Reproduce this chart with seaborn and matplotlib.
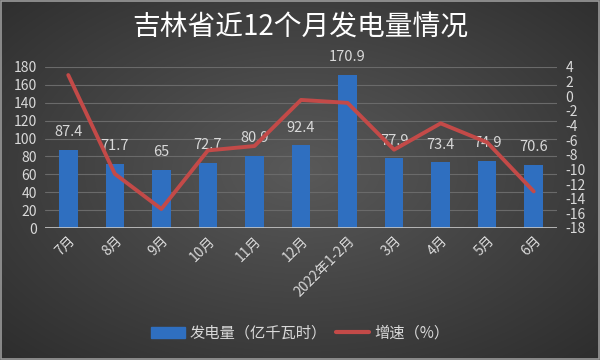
import numpy as np
import pandas as pd
import seaborn as sns
import matplotlib
matplotlib.use("Agg")
import matplotlib.pyplot as plt
from matplotlib.patches import Patch
from matplotlib.lines import Line2D

months = ["7月", "8月", "9月", "10月", "11月", "12月", "2022年1-2月", "3月", "4月", "5月", "6月"]
output = [87.4, 71.7, 65, 72.7, 80.9, 92.4, 170.9, 77.9, 73.4, 74.9, 70.6]
growth = [2.9, -10.6, -15.4, -7.4, -6.8, -0.5, -0.9, -7.3, -3.7, -6.3, -13.0]

sns.set_theme(style="dark")
plt.rcParams['font.family'] = ['Noto Sans CJK SC', 'DejaVu Sans']
plt.rcParams['axes.unicode_minus'] = False

txt = "#d9d9d9"
fig = plt.figure(figsize=(6, 3.6), dpi=100)

# dark radial background like the excel template
yy, xx = np.mgrid[0:360, 0:600]
r = np.sqrt(((xx - 300) / 420.0) ** 2 + ((yy - 170) / 260.0) ** 2)
shade = np.clip(0.35 - 0.17 * r, 0.16, 0.35)
fig.figimage(np.dstack([shade] * 3), xo=0, yo=0, origin="upper", zorder=-5)

ax = fig.add_axes([45 / 600, 1 - 228 / 360, 512 / 600, 161 / 360])
ax.patch.set_alpha(0)
df = pd.DataFrame({"month": months, "output": output, "growth": growth})

sns.barplot(data=df, x="month", y="output", color="#2f6fc0", saturation=1,
            width=0.4, linewidth=0, ax=ax, zorder=3)
for p, v in zip(ax.patches, output):
    ax.text(p.get_x() + p.get_width() / 2, v + 12, f"{v:g}", ha="center", va="bottom",
            color=txt, fontsize=10.5, clip_on=False, zorder=5)

ax.set_ylim(0, 180)
ax.set_yticks(range(0, 181, 20))
ax.set_xlim(-0.5, len(months) - 0.5)
ax.grid(axis="y", color="#6a6a6a", lw=0.8)
ax.set_axisbelow(True)
for s in ax.spines.values():
    s.set_visible(False)
ax.axhline(0, color="#c8c8c8", lw=1.2, zorder=4)
ax.set_xlabel("")
ax.set_ylabel("")
ax.tick_params(axis="y", colors=txt, labelsize=10, length=0, pad=6)
ax.tick_params(axis="x", colors=txt, labelsize=10, length=0, pad=4)
plt.setp(ax.get_xticklabels(), rotation=45, ha="right", rotation_mode="anchor")

ax2 = ax.twinx()
sns.lineplot(x=np.arange(len(months)), y=df["growth"], color="#c34a48", lw=2.8,
             ax=ax2, zorder=6)
ax2.set_ylim(-18, 4)
ax2.set_yticks(range(-18, 5, 2))
ax2.set_ylabel("")
for s in ax2.spines.values():
    s.set_visible(False)
ax2.tick_params(axis="y", colors=txt, labelsize=10, length=0, pad=6)
ax2.grid(False)

fig.text(0.5, 1 - 27 / 360, "吉林省近12个月发电量情况", ha="center", va="center",
         color="white", fontsize=20, fontweight="medium")

handles = [Patch(color="#2f6fc0"), Line2D([], [], color="#c34a48", lw=3)]
fig.legend(handles, ["发电量（亿千瓦时）", "增速（%）"], loc="center",
           bbox_to_anchor=(0.5, 1 - 333 / 360), ncol=2, frameon=False,
           labelcolor=txt, fontsize=11, handlelength=2.2, columnspacing=0.6,
           handletextpad=0.3)

fig.patches.append(plt.Rectangle((0.002, 0.003), 0.996, 0.994, transform=fig.transFigure,
                                 fill=False, ec="#9a9a9a", lw=1.2))

fig.savefig("out.png", dpi=100)
